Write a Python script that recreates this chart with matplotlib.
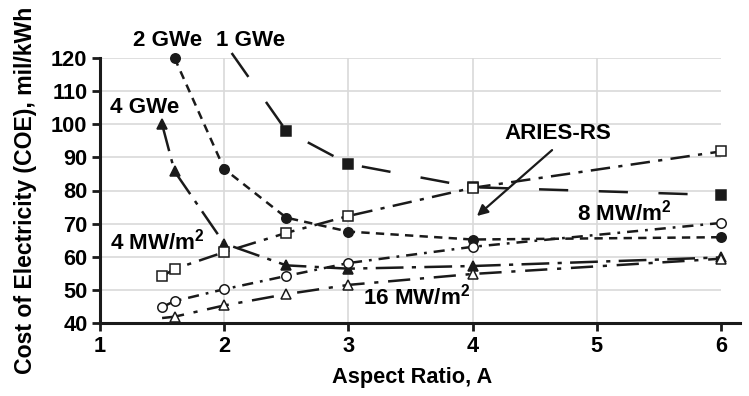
import matplotlib
matplotlib.use("Agg")
import matplotlib.pyplot as plt
from matplotlib import font_manager

# ---------------- data ----------------
x_1gwe = [2.06, 2.5, 3.0, 4.0, 6.0]
y_1gwe = [121.5, 98.0, 88.0, 81.0, 78.6]

x_2gwe = [1.6, 2.0, 2.5, 3.0, 4.0, 6.0]
y_2gwe = [120.0, 86.5, 71.8, 67.6, 65.2, 65.9]

x_4gwe = [1.5, 1.6, 2.0, 2.5, 3.0, 4.0, 6.0]
y_4gwe = [100.0, 85.8, 64.0, 57.4, 56.4, 57.2, 59.8]

x_4mw = [1.5, 1.6, 2.0, 2.5, 3.0, 4.0, 6.0]
y_4mw = [54.1, 56.3, 61.4, 67.2, 72.3, 80.8, 91.8]

x_8mw = [1.5, 1.6, 2.0, 2.5, 3.0, 4.0, 6.0]
y_8mw = [44.8, 46.6, 50.2, 54.2, 58.1, 63.0, 70.2]

x_16mw = [1.5, 1.6, 2.0, 2.5, 3.0, 4.0, 6.0]
y_16mw = [41.5, 41.9, 45.3, 48.7, 51.5, 54.8, 59.4]

x_ticks = [1, 2, 3, 4, 5, 6]
y_ticks = [40, 50, 60, 70, 80, 90, 100, 110, 120]

# ---------------- fonts ----------------
names = {f.name for f in font_manager.fontManager.ttflist}
NARROW = 'Liberation Sans Narrow' in names
FONT = 'Liberation Sans Narrow' if NARROW else 'Liberation Sans'
SC = 1.0 if NARROW else 0.87   # shrink wide font to match text widths
plt.rcParams['font.family'] = [FONT, 'DejaVu Sans']
plt.rcParams['font.weight'] = 'bold'
plt.rcParams['mathtext.fontset'] = 'custom'
plt.rcParams['mathtext.rm'] = FONT + ':bold'
plt.rcParams['mathtext.bf'] = FONT + ':bold'
plt.rcParams['mathtext.default'] = 'bf'
plt.rcParams['lines.scale_dashes'] = False

fig = plt.figure(figsize=(7.49, 3.96), dpi=100)
ax = fig.add_axes([100 / 749, 1 - 323 / 396, (739.6 - 100) / 749, (323 - 58) / 396])

ax.set_xlim(1, 6.15)
ax.set_ylim(40, 120)

GRID = '#d9d9d9'
for yv in y_ticks[1:]:
    ax.hlines(yv, 1, 6, color=GRID, lw=1.2, zorder=0)
for xv in x_ticks[1:-1]:
    ax.vlines(xv, 40, 120, color=GRID, lw=1.2, zorder=0)

LW = 1.8
K = '#1a1a1a'


def series(xs, ys, dashes, marker, ms, filled, skip_first=False):
    ln, = ax.plot(xs, ys, color=K, lw=LW, clip_on=False, zorder=3)
    ln.set_dashes(dashes)
    xm = xs[1:] if skip_first else xs
    ym = ys[1:] if skip_first else ys
    ax.plot(xm, ym, ls='none', marker=marker, ms=ms,
            mfc=K if filled else 'white', mec=K, mew=1.1,
            clip_on=False, zorder=4)


series(x_1gwe, y_1gwe, (21, 22), 's', 7.8, True, skip_first=True)
series(x_2gwe, y_2gwe, (6, 4.5), 'o', 6.8, True)
series(x_4gwe, y_4gwe, (20, 6, 3, 6), '^', 7.2, True)
series(x_4mw, y_4mw, (14, 6, 3, 6), 's', 7.8, False)
series(x_8mw, y_8mw, (8, 5, 2, 5), 'o', 6.8, False)
series(x_16mw, y_16mw, (16, 7, 3, 7), '^', 7.8, False, skip_first=True)

# ---------------- axes styling ----------------
for s in ['top', 'right']:
    ax.spines[s].set_visible(False)
for s in ['left', 'bottom']:
    ax.spines[s].set_linewidth(2.2)
    ax.spines[s].set_color(K)

ax.set_xticks(x_ticks)
ax.set_yticks(y_ticks)
ax.tick_params(axis='both', direction='out', length=6, width=2.0, color=K,
               labelsize=17.5 * SC * 1.03, pad=3)
for lab in ax.get_xticklabels() + ax.get_yticklabels():
    lab.set_fontweight('bold')

ax.set_xlabel('Aspect Ratio, A', fontsize=18 * SC, fontweight='bold', labelpad=6)
ax.xaxis.set_label_coords((412 - 100) / 639.6, -0.165)
ax.set_ylabel('Cost of Electricity (COE), mil/kWh', fontsize=18 * SC * 1.06,
              fontweight='bold', labelpad=10)

# ---------------- annotations ----------------
TS = 18.5 * SC
ax.text(1.547, 125.4, '2 GWe', fontsize=TS, fontweight='bold', ha='center', va='center')
ax.text(2.21, 125.4, '1 GWe', fontsize=TS, fontweight='bold', ha='center', va='center')
ax.text(1.36, 105.2, '4 GWe', fontsize=TS, fontweight='bold', ha='center', va='center')
ax.text(4.69, 97.3, 'ARIES-RS', fontsize=TS, fontweight='bold', ha='center', va='center')
ax.text(1.46, 64.5, r'4 MW/m$^{2}$', fontsize=TS, fontweight='bold', ha='center', va='center')
ax.text(5.22, 73.3, r'8 MW/m$^{2}$', fontsize=TS, fontweight='bold', ha='center', va='center')
ax.text(3.55, 47.9, r'16 MW/m$^{2}$', fontsize=TS, fontweight='bold', ha='center', va='center')

ax.annotate('', xy=(4.035, 72.3), xytext=(4.64, 92.2),
            arrowprops=dict(arrowstyle='-|>', color=K, lw=1.6,
                            mutation_scale=16, shrinkA=0, shrinkB=0),
            zorder=5)

fig.savefig('out.png', dpi=100)
